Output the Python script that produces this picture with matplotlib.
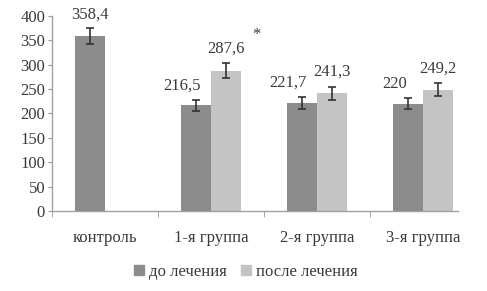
import matplotlib
matplotlib.use("Agg")
import matplotlib.pyplot as plt
import numpy as np
from matplotlib.patches import Patch

categories = ["контроль", "1-я группа", "2-я группа", "3-я группа"]
before = [358.4, 216.5, 221.7, 220.0]
before_err = [16, 11, 12, 11]
after = [np.nan, 287.6, 241.3, 249.2]
after_err = [np.nan, 15, 13, 13]
before_labels = ["358,4", "216,5", "221,7", "220"]
after_labels = [None, "287,6", "241,3", "249,2"]
yticks = [0, 50, 100, 150, 200, 250, 300, 350, 400]
series_names = ["до лечения", "после лечения"]

dark = "#8c8c8c"
light = "#c4c4c4"
txt = "#3a3a3a"
fs = 12
plt.rcParams['font.family'] = ['Liberation Serif', 'DejaVu Serif']

fig = plt.figure(figsize=(4.87, 2.91), dpi=100)
ax = fig.add_axes([0.1068, 0.275, 0.834, 0.670])

x = np.arange(len(categories))
w = 0.28
bx = x - w / 2
ax_ = x + w / 2
ax.bar(bx, before, w, color=dark, zorder=2)
ax.bar(ax_, after, w, color=light, zorder=2)
ax.errorbar(bx, before, yerr=before_err, fmt='none', ecolor='#333333',
            elinewidth=1.2, capsize=3, capthick=1.2, zorder=3)
ax.errorbar(ax_, after, yerr=after_err, fmt='none', ecolor='#333333',
            elinewidth=1.2, capsize=3, capthick=1.2, zorder=3)

for i in range(len(categories)):
    dx = 0 if i == 0 else -14
    ax.annotate(before_labels[i], xy=(bx[i], before[i] + before_err[i]),
                xytext=(dx, 14), textcoords='offset pixels', ha='center',
                va='center', fontsize=fs, color=txt)
    if after_labels[i] is not None:
        ax.annotate(after_labels[i], xy=(ax_[i], after[i] + after_err[i]),
                    xytext=(0, 15), textcoords='offset pixels', ha='center',
                    va='center', fontsize=fs, color=txt)

# significance marker
ax.annotate("*", xy=(ax_[1], after[1] + after_err[1]), xytext=(30, 28),
            textcoords='offset pixels', ha='center', va='center',
            fontsize=fs, color=txt)

ax.set_xlim(-0.5, 3.33)
ax.set_ylim(0, 400)
ax.set_yticks(yticks)
ax.set_yticklabels([str(t) for t in yticks], fontsize=fs, color=txt)

ax.set_xticks(x)
ax.set_xticklabels(categories, fontsize=fs, color=txt)
ax.tick_params(axis='x', length=0, pad=14)
ax.set_xticks(np.arange(-0.5, 3.0, 1.0), minor=True)
ax.tick_params(axis='x', which='minor', length=4, color='#999999')
ax.tick_params(axis='y', length=3, color='#999999', pad=2)

for s in ['top', 'right']:
    ax.spines[s].set_visible(False)
for s in ['left', 'bottom']:
    ax.spines[s].set_color('#a0a0a0')
    ax.spines[s].set_linewidth(1.0)

handles = [Patch(color=dark), Patch(color=light)]
fig.legend(handles, series_names, loc='center', bbox_to_anchor=(0.505, 0.065),
           ncol=2, frameon=False, fontsize=fs, handlelength=0.55,
           handleheight=0.55, handletextpad=0.3, columnspacing=0.9,
           labelcolor=txt)

fig.savefig("out.png", dpi=100)
